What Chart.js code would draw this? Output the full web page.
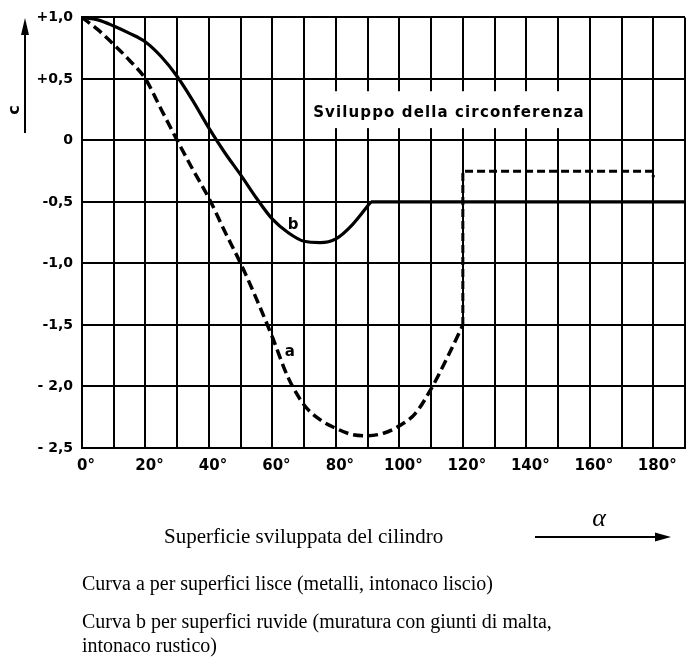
<!DOCTYPE html>
<html lang="it">
<head>
<meta charset="UTF-8">
<title>Coefficiente c - cilindro</title>
<script src="https://cdn.jsdelivr.net/npm/chart.js"></script>
<style>
  body { margin: 0; background: #fff; }
  #wrap { width: 688px; height: 663px; }
</style>
</head>
<body>
<div id="wrap"><canvas id="chart" width="688" height="663"></canvas></div>
<script>
// curve a (superfici lisce), dashed
const aAngles = [0, 5, 10, 15, 20, 25, 30, 35, 40, 45, 50, 55, 60, 65, 70, 75, 80, 85, 90, 95, 100, 105, 110, 115, 120];
const aValues = [1.0, 0.9, 0.78, 0.65, 0.5, 0.25, 0.0, -0.24, -0.47, -0.74, -1.0, -1.29, -1.6, -1.93, -2.15, -2.27, -2.34, -2.39, -2.4, -2.38, -2.32, -2.22, -2.02, -1.77, -1.5];
// curve a after 120 deg (step up then constant)
const aStepAngles = [120, 120, 180, 180];
const aStepValues = [-1.5, -0.25, -0.25, -0.3];
// curve b (superfici ruvide), solid
const bAngles = [0, 5, 10, 15, 20, 25, 30, 35, 40, 45, 50, 55, 60, 65, 70, 75, 80, 85, 91];
const bValues = [1.0, 0.98, 0.93, 0.87, 0.8, 0.68, 0.52, 0.32, 0.1, -0.1, -0.28, -0.47, -0.64, -0.75, -0.82, -0.83, -0.8, -0.69, -0.5];
const bFlatAngles = [91, 190];
const bFlatValues = [-0.5, -0.5];

const xTickValues = [0, 20, 40, 60, 80, 100, 120, 140, 160, 180];
const xTickLabels = ['0°', '20°', '40°', '60°', '80°', '100°', '120°', '140°', '160°', '180°'];
const yTickValues = [1, 0.5, 0, -0.5, -1, -1.5, -2, -2.5];
const yTickLabels = ['+1,0', '+0,5', '0', '-0,5', '-1,0', '-1,5', '- 2,0', '- 2,5'];

const boxText = 'Sviluppo della circonferenza';
const xTitle = 'Superficie sviluppata del cilindro';
const notes = [
  'Curva a per superfici lisce (metalli, intonaco liscio)',
  'Curva b per superfici ruvide (muratura con giunti di malta,',
  'intonaco rustico)'
];

function pts(xs, ys) { return xs.map((v, i) => ({ x: v, y: ys[i] })); }

const overlay = {
  id: 'overlay',
  beforeDatasetsDraw(chart) {
    const { ctx, scales: { x, y } } = chart;
    const x0 = x.getPixelForValue(70), x1 = x.getPixelForValue(160);
    const yt = y.getPixelForValue(0.4), yb = y.getPixelForValue(0.1);
    ctx.save();
    ctx.fillStyle = '#fff';
    ctx.fillRect(x0 + 1.5, yt, x1 - x0 - 3, yb - yt);
    ctx.fillStyle = '#000';
    ctx.font = 'bold 15px "DejaVu Sans"';
    ctx.textBaseline = 'middle';
    const left = x0 + 9, target = x1 - 5 - left;
    const w = ctx.measureText(boxText).width;
    ctx.letterSpacing = ((target - w) / boxText.length) + 'px';
    ctx.fillText(boxText, left, y.getPixelForValue(0.226));
    ctx.restore();
  },
  afterDraw(chart) {
    const { ctx, scales: { x, y } } = chart;
    ctx.save();
    ctx.fillStyle = '#000';
    ctx.strokeStyle = '#000';
    // curve labels
    ctx.font = 'bold 15px "DejaVu Sans"';
    ctx.textAlign = 'center';
    ctx.textBaseline = 'middle';
    ctx.fillText('a', x.getPixelForValue(65.5), y.getPixelForValue(-1.72));
    ctx.fillText('b', x.getPixelForValue(66.5), y.getPixelForValue(-0.69));

    // y axis title with arrow
    ctx.lineWidth = 2;
    ctx.beginPath();
    ctx.moveTo(25, 133);
    ctx.lineTo(25, 30);
    ctx.stroke();
    ctx.beginPath();
    ctx.moveTo(25, 18);
    ctx.lineTo(21, 35);
    ctx.lineTo(29, 35);
    ctx.closePath();
    ctx.fill();
    ctx.save();
    ctx.translate(15, 110);
    ctx.rotate(-Math.PI / 2);
    ctx.font = 'bold 16px "DejaVu Sans"';
    ctx.fillText('c', 0, 0);
    ctx.restore();

    // x title
    const serif = '"Liberation Serif"';
    ctx.textAlign = 'left';
    ctx.font = '21px ' + serif;
    ctx.fillText(xTitle, 164, 537);
    // alpha arrow
    ctx.lineWidth = 2;
    ctx.beginPath();
    ctx.moveTo(535, 537);
    ctx.lineTo(660, 537);
    ctx.stroke();
    ctx.beginPath();
    ctx.moveTo(671, 537);
    ctx.lineTo(655, 532.5);
    ctx.lineTo(655, 541.5);
    ctx.closePath();
    ctx.fill();
    ctx.font = 'italic 26px ' + serif;
    ctx.textAlign = 'center';
    ctx.fillText('α', 599, 519);

    // notes
    ctx.textAlign = 'left';
    ctx.font = '20px ' + serif;
    ctx.fillText(notes[0], 82, 585);
    ctx.fillText(notes[1], 82, 623);
    ctx.fillText(notes[2], 82, 647);
    ctx.restore();
  }
};

new Chart(document.getElementById('chart'), {
  type: 'line',
  data: {
    datasets: [
      { label: 'a', data: pts(aAngles, aValues), borderColor: '#000', borderWidth: 3.5, borderDash: [10, 5], cubicInterpolationMode: 'monotone', pointRadius: 0 },
      { label: 'a2', data: pts(aStepAngles, aStepValues), borderColor: '#000', borderWidth: 3, borderDash: [8, 4], tension: 0, pointRadius: 0 },
      { label: 'b', data: pts(bAngles, bValues), borderColor: '#000', borderWidth: 3.2, cubicInterpolationMode: 'monotone', pointRadius: 0 },
      { label: 'b2', data: pts(bFlatAngles, bFlatValues), borderColor: '#000', borderWidth: 3.2, tension: 0, pointRadius: 0 }
    ]
  },
  options: {
    responsive: false,
    animation: false,
    layout: { padding: { left: 10, top: 16, right: 3, bottom: 185 } },
    plugins: { legend: { display: false }, tooltip: { enabled: false } },
    scales: {
      x: {
        type: 'linear', min: 0, max: 190,
        afterFit(s) { s.height = 30; s.paddingLeft = 0; s.paddingRight = 0; },
        grid: { color: '#000', lineWidth: 2, drawTicks: false },
        border: { color: '#000', width: 2 },
        ticks: {
          stepSize: 10, autoSkip: false, maxRotation: 0, padding: 9, labelOffset: 4, color: '#000',
          font: { family: 'DejaVu Sans', size: 15, weight: 'bold' },
          callback: v => { const i = xTickValues.indexOf(v); return i >= 0 ? xTickLabels[i] : ''; }
        }
      },
      y: {
        type: 'linear', min: -2.5, max: 1,
        afterFit(s) { s.width = 72; },
        grid: { color: '#000', lineWidth: 2, drawTicks: false },
        border: { color: '#000', width: 2 },
        ticks: {
          stepSize: 0.5, padding: 9, color: '#000',
          font: { family: 'DejaVu Sans', size: 14, weight: 'bold' },
          callback: v => { const i = yTickValues.indexOf(v); return i >= 0 ? yTickLabels[i] : ''; }
        }
      }
    }
  },
  plugins: [overlay]
});
</script>
</body>
</html>
